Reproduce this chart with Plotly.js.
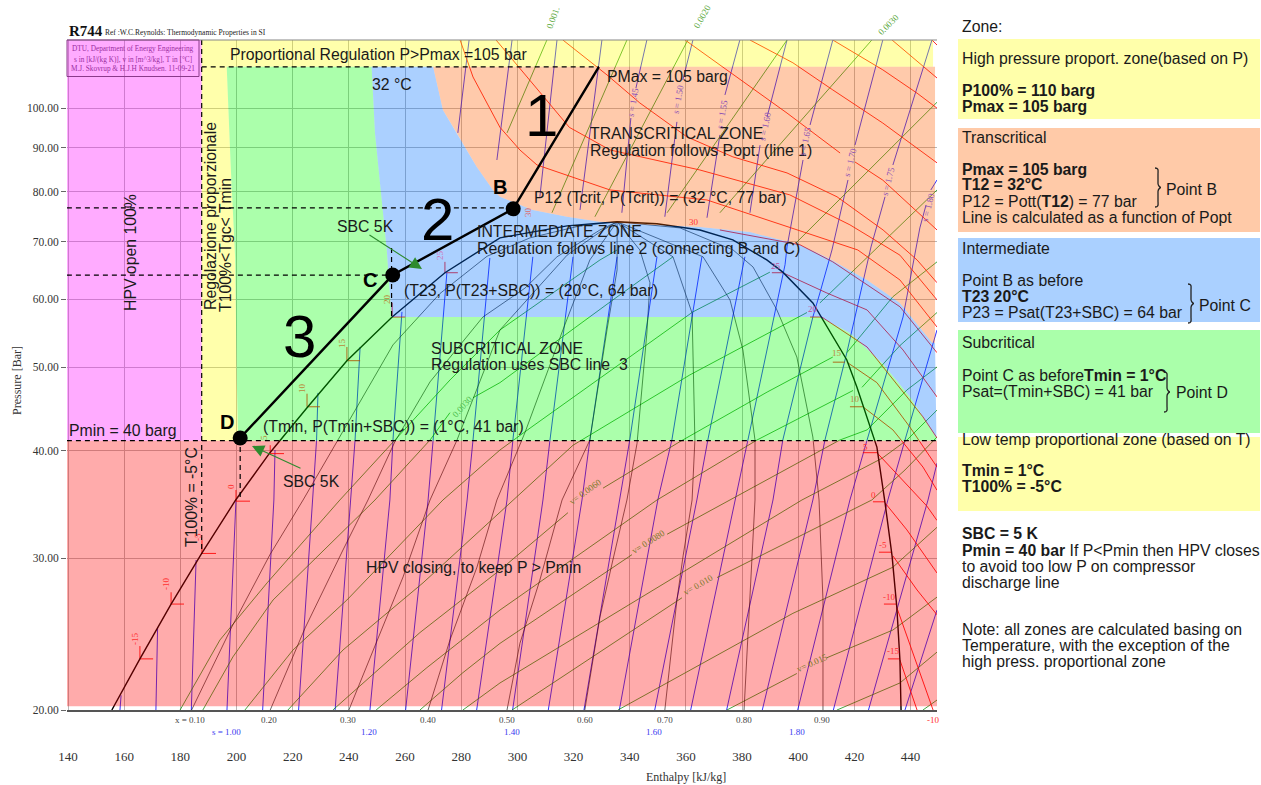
<!DOCTYPE html>
<html>
<head>
<meta charset="utf-8">
<script src="https://cdn.plot.ly/plotly-3.0.1.min.js"></script>
<style>html,body{margin:0;padding:0;background:#fff;overflow:hidden}#chart{width:1261px;height:785px}</style>
</head>
<body>
<div id="chart"></div>
<script>
// ---- axes ----
const enthalpyTicks = [140,160,180,200,220,240,260,280,300,320,340,360,380,400,420,440];
const pressureTicks = [20,30,40,50,60,70,80,90,100];
const pressureTickText = ["20.00","30.00","40.00","50.00","60.00","70.00","80.00","90.00","100.00"];

// ---- constant entropy lines (null = gap) ----
const entropyH = [
 [158.5,158.9],[171.3,171.9],[183.9,185.6],[196.6,199.8],[209.3,213.3,213.7],
 [222.1,226.9,228.5,229],[235.1,240.8,242.2,244],[247.5,254.6,255.7,258.9],
 [260.2,268.2,270,274.9,null,278.8,282.8],
 [273,282.1,284.2,290.2,null,292.7,298.1],
 [285.5,296.3,298.4,305.5,null,308,314.1],
 [298.3,309.1,311.6,319.8,null,322.3,330.1],
 [311,323,325.8,335.5,null,337.2,340.4,null,342.2,346.1],
 [323.7,336.5,340,349.7,null,352.5,356.8,null,358.9,362.5],
 [336.3,350,355,365.7,null,367.5,372.1,null,373.9,379.2],
 [348.9,363.9,367.8,381,null,382.8,386.4,null,388.9,396],
 [361.7,377.5,382.1,395.3,396,401.7,null,404.2,412.3],
 [374.5,391,394.5,405.2,407.7,412,417.7,null,420.2,430.1],
 [387.2,405.2,409.5,417.3,425.9,430.9,null,433.7,447.6],
 [399.8,418.4,424.5,437.3,443.3,445.5,null,447.2,449.4],
 [412.5,431.9,438,444.4,449.4],[425,446.2,449.4],[438,449.4]
];
const entropyP = [
 [20,20.8],[20,24.97],[20,29.87],[20,35.07],[20,35.07,40.09],
 [20,35.07,41.17,46.7],[20,35.07,41.17,52.8],[20,35.07,41.17,58],
 [20,35.07,41.17,64.4,null,93.6,120],
 [20,35.07,41.17,67,null,87.06,120],
 [20,35.07,41.17,67.2,null,78.9,120],
 [20,35.07,41.17,67.2,null,76.17,120],
 [20,35.07,41.17,67.2,null,75.6,97.4,null,105.5,120],
 [20,35.07,41.17,67.2,null,74.8,96.4,null,107.8,120],
 [20,35.07,41.17,67.2,null,74.6,93.1,null,103.6,120],
 [20,35.07,41.17,67.2,null,75.6,90.6,null,97.7,120],
 [20,35.07,41.17,65.8,69,87.06,null,95.6,120],
 [20,35.07,41.17,57.2,61,68.44,82.53,null,90.6,120],
 [20,35.07,41.17,52,69,78.9,null,85.9,120],
 [20,35.07,41.17,57.2,72.6,77.2,null,80.35,82.53],
 [20,35.07,41.17,48.6,55.26],[20,35.07,38.7],[20,26.13]
];

// ---- saturation dome ----
const satH = [155.6,165.6,176.7,187.6,199.7,211.9,225.4,239.3,255.4,274.2,293.8,305.5,317.7,335.5,349.7,365,376.7,388.8,394.5,405.2,417.3,420.9,428,430.9,433.4,435.1,436.2,436.6];
const satP = [20,22.93,26.55,30.4,35.07,39.8,45,50.9,57.2,64.4,70.7,71.8,73,73.8,73.4,72.2,70.3,66.64,64.5,59.4,51,47.4,40.4,34.8,30.2,26.3,22.86,20];

// ---- vapour quality lines x = 0.10 ... 0.90 ----
const qualityH = [
 [184,198.3,211.9,223.7,236.1,255.7,272.4,289.2,304.5,322.3,335.5],
 [212,224.4,237.9,246.8,256.4,268.9,287.7,302.7,314.1,329.4,335.5],
 [240,251.1,259.3,268.9,278.5,293.8,317.7,329.4,335.5],
 [268.2,276,285.6,292.7,302.7,316.2,325.8,335.5],
 [296.3,300.9,308,315.9,325.8,331.9,335.5,335.5],
 [324,329.4,334,339,342.6,346.1,347.2,343.6,335.5],
 [352.5,356.8,359,362.2,363.2,362.2,355.4,335.5],
 [380.7,382.8,384.6,384.6,380.3,375.7,366.1,335.5],
 [408.8,408.8,407.4,405.2,399.5,392.4,383.9,376.8,357.9,335.5]
];
const qualityP = [
 [20,24.97,30.3,35.07,41.17,53.1,60.9,67.3,70.7,73,73.8],
 [20,24.9,30.68,35.07,41,48.1,57.2,61.8,67.2,72.2,73.8],
 [20,24.6,28.55,35.07,41.17,55.26,67.5,71.8,73.8],
 [20,24.12,29.3,35.07,42,55.26,66.64,73.8],
 [20,23.9,28.31,35.07,41.17,55.26,64.88,73.8],
 [20,25.65,29.87,35.07,40.8,54.8,62.7,68.44,73.8],
 [20,26.84,30.2,35.07,41.17,57.8,67.2,73.8],
 [20,26.84,35.07,41.17,52.38,59.88,67.2,73.8],
 [20,26.84,35.07,41.5,51.4,58.3,65.4,68.44,72.6,73.8]
];

// ---- constant specific volume lines ----
const volumeH = [
 [179.9,194.1,210.9,236.8,256.4,276,293.8,329.4,335.5],
 [188,198.7,213,249.3,268.9,276,null,284.2,293.8,334,355.4],
 [203,220.1,239.3,273.5,293.8,304.5,362.5,389.9],
 [218.3,237.9,266.4,293.8,319.8,361.4,403.1],
 [234.3,265.3,293.8,318,null,330.5,357.9,388.9,412.3,null,417.3,433.7,449.4],
 [249.7,267.8,293.8,349.7,385.3,419.5,null,422.7,436.2,449.4],
 [265.3,280.6,293.8,340.8,null,353.3,375.7,414.8,424.5,438.7,449.4],
 [280.6,293.8,401.3,429.8,438.7,449.4],
 [298.1,358.6,null,371.1,426.2,438,449.4],
 [335.8,365,398.1,433.7,449.4],
 [374.6,399.5,null,410.2,433.7,449.4],
 [413.8,436.2,449.4],
 [444.4,449.4],
 [310.5,296.3],[339,312.3],[360.7,327.6],[396,353.3],[426.2,372.1],[449.4,399.5],[449.4,424.5,407.7]
];
const volumeP = [
 [20,24.12,28.1,35.07,41.17,48.34,55.26,66.64,68.44],
 [20,23.05,26.84,35.07,41.17,44.3,null,46.1,48,59.88,67.2],
 [20,23.48,26.84,35.07,40.09,42.5,58,64.5],
 [20,23.48,28.1,33.9,40.6,49,57.9],
 [20,24.6,29.08,33.9,null,36.2,41,46.8,51.4,null,52,60.4,66.3],
 [20,22.4,26.13,35.07,41.17,47,null,47.4,53,57.9],
 [20,22.1,23.9,30.3,null,32,35.07,41.17,42.3,47.07,50.05],
 [20,21.5,35.07,39.2,41.17,44.6],
 [20,27,null,28.5,35.07,38,41.5],
 [20,22.6,25.9,29.3,32.6],
 [20,22.05,null,23,24.77,27.05],
 [20,21.5,23.35],
 [20,20.54],
 [120,93.6],[120,75.6],[120,74.8],[120,75.6],[120,75.6],[101.6,69.9],[80.35,67,59.4]
];

// ---- isotherms and their tick marks at the dome ----
const thermH = [
 [372.1,400.6,412.3,436.2,449.4],[394.5,410.2,424.5,437.3,449.4],[408.4,424.5,444.4,449.4],
 [417.3,428,439.8,449.4],[423,433.7,444.4,449.4],[428,436.2,445.8,449.4],[430.9,438.7,449.4],
 [433.7,442.3,449.4],[435.1,448],[436.2,442.3],
 [279.6,284.2,293.8,300.9,307,333,367.5,397,421.2,436.2,449.4],
 [292.4,304.5,318.5,333,365,397,418.4,436.2,449.4],
 [316.2,331.9,343.6,360.4,376.7,396,413.8,430.2,442.3,449.4],
 [359.7,375.7,396,414.9,null,420.2,430.1,449.4],
 [382.8,398.1,412.3,430.1,449.4],[412.3,430.1,442.3,449.4],[433.4,449.4],[447.6,449.4],
 [170.3,165.6,165.6],[181.3,176.7,176.7],[192.7,187.7,187.7],[204.8,199.8,199.8],[216.9,212,212],
 [229.7,225.1,225.1],[244,239.3,239.3],[260,255.4,255.4],[278.8,274.2,274.2],
 [390.6,394.5],[404.2,408.4],[412.3,416.6],[418.4,423],[423,428],[426.6,430.9],[428.7,433.4],[430.5,435.1],[431.9,436.2]
];
const thermP = [
 [72.2,69.4,66.3,58.8,52],[64.4,61,58.3,52.38,46.2],[57.2,52.8,43.8,41.4],
 [50.7,48,42.6,38.3],[45,42.3,38.3,36],[39.8,37.3,34.5,33.2],[34.8,32.37,28.85],
 [30.2,27.57,25.8],[26.3,20],[22.86,20],
 [120,108.7,95,89.42,85.9,80.35,78.23,72.7,68.44,63.17,55.7],
 [120,107.8,95,89.42,84.76,79.3,73.2,67.5,59.88],
 [120,109.3,101.4,92.6,87.8,84.1,78.9,72.2,66.64,62.7],
 [120,110.2,98.7,88.7,null,86.6,82.5,72.2],
 [120,112.9,105,96.1,86.4],[120,110.8,104.1,100],[120,108.4],[120,118.4],
 [22.93,22.93,23.73],[26.55,26.55,27.4],[30.4,30.4,31.51],[34.96,34.96,36.02],[39.7,39.7,40.6],
 [45,45,46.6],[50.9,50.9,52.8],[57.2,57.2,59.4],[64.4,64.4,66.3],
 [64.4,64.4],[57.2,57.2],[50.7,50.7],[45,45],[39.8,39.8],[34.9,34.9],[30.5,30.5],[26.55,26.55],[22.93,22.93]
];

// ---- regulation zones ----
const pinkH = [139.6,187.6,187.6,139.6];
const pinkP = [41.1,41.1,120,120];
const topYellowH = [187.6,448,448,187.6];
const topYellowP = [111.7,111.7,120,120];
const lowYellowH = [187.6,196.5,197.9,199.5,200.1,200.6,187.6];
const lowYellowP = [111.7,111.7,86,67,48.1,41.1,41.1];
const greenH = [196.5,248.1,249.3,251.7,253.5,255.2,407.7,418.4,430.1,439.8,449.2,449.2,200.6,200.1,199.5,197.9];
const greenP = [111.7,111.7,93.5,78.2,68.44,57.2,57.2,54.8,50.5,46.2,41.4,41.1,41.1,48.1,67,86];
const blueH = [248.1,249.3,251.7,253.5,255.2,407.7,418.4,430.1,439.8,449.2,448.7,447.7,436.2,424.5,410.6,400.6,382.8,365,347.2,329.4,317.7,305.5,293.8,291.3,285.5,278.4,273.5,270];
const blueP = [111.7,93.5,78.2,68.44,57.2,57.2,54.8,50.5,46.2,41.4,53.4,53.4,59.4,63.17,67,69.4,71.8,72.8,73.2,73.8,74.8,76.17,78.9,80.35,85.5,93.6,99.5,111.7];
const orangeH = [270,273.5,278.4,285.5,291.3,293.8,305.5,317.7,329.4,347.2,365,382.8,400.6,410.6,424.5,436.2,447.7,448.7,448.7];
const orangeP = [111.7,99.5,93.6,85.5,80.35,78.9,76.17,74.8,73.8,73.2,72.8,71.8,69.4,67,63.17,59.4,53.4,53.4,111.7];
const redH = [139.6,449.4,449.4,139.6];
const redP = [20.2,20.2,41.1,41.1];

// ---- control line and points ----
const controlH = [201.3,255.6,298.5,329];
const controlP = [41.4,64,76.4,111.7];
const pointH = [201.3,255.6,298.5];
const pointP = [41.4,64,76.4];

// ---- dashed guides ----
const guideH = [[187.6,329],[139.6,298.5],[139.6,255.6],[139.6,449.4],[187.6,187.6],[201.3,201.3],[255.2,255.2]];
const guideP = [[111.7,111.7],[76.6,76.6],[64,64],[41.1,41.1],[120,30.4],[41.4,35],[68.8,57.2]];

// ---- helpers ----
const SANS = '"Liberation Sans", Arial, sans-serif';
const SERIF = '"Liberation Serif", "Times New Roman", serif';
const FS = 15.8;
function joinCurves(list){ const out=[]; list.forEach((c,i)=>{ if(i) out.push(null); c.forEach(v=>out.push(v)); }); return out; }
function line(h,p,color,width,dash){ return {type:'scatter',mode:'lines',x:h,y:p,hoverinfo:'skip',showlegend:false,line:{color:color,width:width,dash:dash||'solid'}}; }
function zone(h,p,color){ return {type:'scatter',mode:'lines',x:h,y:p,fill:'toself',fillcolor:color,line:{width:0},hoverinfo:'skip',showlegend:false}; }
const px = v => (v-67)/870, py = v => (710-v)/670;
function t(x,y,text,o){ o=o||{}; const f=Object.assign({family:SANS,size:FS,color:'#1a1a1a'},o.font||{}); const r=Object.assign({xref:'paper',yref:'paper',x:px(x),y:py(y),text:text,showarrow:false,xanchor:'center',yanchor:'middle'},o); r.font=f; return r; }
function left(x,y,text,size){ return t(x-2,y,text,{xanchor:'left',font:{size:size||FS}}); }
function rot(x,y,text,ang,size,color,fam){ return t(x,y,text,{textangle:ang,font:{size:size,color:color,family:fam||SERIF}}); }
function rect(x0,y0,x1,y1,fill,lineColor){ return {type:'rect',xref:'paper',yref:'paper',x0:px(x0),x1:px(x1),y0:py(y0),y1:py(y1),fillcolor:fill,line:{width:lineColor?1:0,color:lineColor||fill},layer:'below'}; }
function arrow(x,y,ax,ay){ return {xref:'paper',yref:'paper',x:px(x),y:py(y),ax:ax,ay:ay,text:'',showarrow:true,arrowhead:2,arrowsize:2.2,arrowwidth:1.1,arrowcolor:'#2e8b2e'}; }
function brace(x,y0,y1){ const m=(y0+y1)/2, p=(a,b)=>px(a)+','+py(b);
 return {type:'path',xref:'paper',yref:'paper',line:{color:'#222222',width:1.3},
  path:'M'+p(x-2,y0)+' C'+p(x+2,y0)+' '+p(x+1,y0+3)+' '+p(x+1,y0+6)+' L'+p(x+1,m-4)+' C'+p(x+1,m-2)+' '+p(x+3,m)+' '+p(x+4,m)+' C'+p(x+3,m)+' '+p(x+1,m+2)+' '+p(x+1,m+4)+' L'+p(x+1,y1-6)+' C'+p(x+1,y1-3)+' '+p(x+2,y1)+' '+p(x-2,y1)}; }

const traces = [
 line(joinCurves(entropyH),joinCurves(entropyP),'rgba(0,0,255,0.8)',1),
 line(joinCurves(volumeH),joinCurves(volumeP),'rgba(0,140,0,0.75)',1),
 line(joinCurves(qualityH),joinCurves(qualityP),'rgba(0,0,0,0.6)',1),
 line(joinCurves(thermH),joinCurves(thermP),'rgba(255,0,0,0.85)',1),
 line(satH,satP,'#000000',1.4),
 zone(pinkH,pinkP,'rgba(255,0,255,0.33)'),
 zone(topYellowH,topYellowP,'rgba(255,255,0,0.33)'),
 zone(lowYellowH,lowYellowP,'rgba(255,255,0,0.33)'),
 zone(greenH,greenP,'rgba(0,255,0,0.33)'),
 zone(blueH,blueP,'rgba(0,113,255,0.33)'),
 zone(orangeH,orangeP,'rgba(255,95,0,0.33)'),
 zone(redH,redP,'rgba(255,0,0,0.33)'),
 line(joinCurves(guideH),joinCurves(guideP),'#000000',1.2,'5px,4px'),
 line(controlH,controlP,'#000000',2.4),
 {type:'scatter',mode:'markers',x:pointH,y:pointP,hoverinfo:'skip',showlegend:false,marker:{color:'#000000',size:15}}
];

const sideShapes = [
 rect(958,39,1260,119,'#ffffaa'),
 rect(958,128,1260,232,'#ffcaa8'),
 rect(958,238,1260,322,'#aad0ff'),
 rect(958,330,1260,433,'#aaffaa'),
 rect(958,437,1260,511,'#ffffaa')
];
const frameShapes = [
 {type:'line',xref:'paper',yref:'paper',x0:0,x1:1,y0:1,y1:1,line:{color:'#888888',width:1.2}},
 {type:'rect',xref:'paper',yref:'paper',x0:px(67),x1:px(199),y0:py(76.5),y1:py(40),line:{color:'#8a3a8a',width:1},fillcolor:'rgba(0,0,0,0)'},
 brace(1157,168,207),brace(1190,284,323),brace(1166,372,412)
];

const PURPLE='#8a4fb5', OLIVE='#7c7a2a', GRN='#5aa83c', BRN='#b98a3a', RED='#ff3030', MAG='#c0509a';
const annotations = [
 // header
 t(67,31,'<b>R744</b>',{xanchor:'left',font:{family:SERIF,size:15,color:'#111'}}),
 t(103,33,'Ref :W.C.Reynolds: Thermodynamic Properties in SI',{xanchor:'left',font:{family:SERIF,size:7.5,color:'#222'}}),
 t(133,49,'DTU, Department of Energy Engineering',{font:{family:SERIF,size:7.3,color:'#9a2fa0'}}),
 t(133,59,'s in [kJ/(kg K)], v in [m^3/kg], T in [°C]',{font:{family:SERIF,size:7.3,color:'#9a2fa0'}}),
 t(133,69,'M.J. Skovrup &amp; H.J.H Knudsen. 11-09-21',{font:{family:SERIF,size:7.3,color:'#9a2fa0'}}),
 // chart texts
 left(230,54,'Proportional Regulation P&gt;Pmax =105 bar'),
 left(372,85,'32 °C'),
 left(607,77,'PMax = 105 barg'),
 t(541,115,'1',{font:{size:60,color:'#000'}}),
 t(437,219,'2',{font:{size:60,color:'#000'}}),
 t(299,336,'3',{font:{size:60,color:'#000'}}),
 t(500,187,'<b>B</b>',{font:{size:20,color:'#000'}}),
 t(370,280,'<b>C</b>',{font:{size:20,color:'#000'}}),
 t(227,422,'<b>D</b>',{font:{size:20,color:'#000'}}),
 left(590,133,'TRANSCRITICAL ZONE'),
 left(590,150,'Regulation follows Popt. (line 1)'),
 left(534,197,'P12 (Tcrit, P(Tcrit)) = (32 °C, 77 bar)'),
 left(477,232,'INTERMEDIATE ZONE'),
 left(477,248,'Regulation follows line 2 (connecting B and C)'),
 left(337,226,'SBC 5K'),
 left(283,481,'SBC 5K'),
 left(404,290,'(T23, P(T23+SBC)) = (20°C, 64 bar)'),
 left(431,348,'SUBCRITICAL ZONE'),
 left(431,364,'Regulation uses SBC line  3'),
 left(263,426,'(Tmin, P(Tmin+SBC)) = (1°C, 41 bar)'),
 left(69,430,'Pmin = 40 barg'),
 t(130,253,'HPV open 100%',{textangle:-90}),
 t(210,216,'Regolazione proporzionale',{textangle:-90}),
 t(225,245,'T100%&lt;Tgc&lt; Tmin',{textangle:-90}),
 t(191,497,'T100% = -5°C',{textangle:-90}),
 left(366,567,'HPV closing, to keep P &gt; Pmin'),
 arrow(422,269,-54,-35),
 arrow(252,446,50,23),
 // axis titles
 t(686,777,'Enthalpy [kJ/kg]',{font:{family:SERIF,size:12,color:'#333'}}),
 t(17,381,'Pressure [Bar]',{textangle:-90,font:{family:SERIF,size:12,color:'#333'}}),
 // quality and entropy rows
 rot(190,720,'x = 0.10',0,9,'#444'),rot(269,720,'0.20',0,9,'#444'),rot(348,720,'0.30',0,9,'#444'),
 rot(428,720,'0.40',0,9,'#444'),rot(507,720,'0.50',0,9,'#444'),rot(585,720,'0.60',0,9,'#444'),
 rot(665,720,'0.70',0,9,'#444'),rot(744,720,'0.80',0,9,'#444'),rot(822,720,'0.90',0,9,'#444'),
 rot(226,732,'s = 1.00',0,9,'#3a3af0'),rot(369,732,'1.20',0,9,'#3a3af0'),rot(512,732,'1.40',0,9,'#3a3af0'),
 rot(654,732,'1.60',0,9,'#3a3af0'),rot(797,732,'1.80',0,9,'#3a3af0'),rot(933,720,'-10',0,9,'#ff3030'),
 // entropy labels
 rot(633,103,'s = 1.45',-80,9,PURPLE),rot(678,100,'s = 1.50',-80,9,PURPLE),rot(722,115,'s = 1.55',-80,9,PURPLE),
 rot(765,127,'s = 1.60',-78,9,PURPLE),rot(805,142,'s = 1.65',-78,9,PURPLE),rot(850,163,'s = 1.70',-76,9,PURPLE),
 rot(888,182,'s = 1.75',-76,9,PURPLE),rot(928,208,'s = 1.80',-76,9,PURPLE),
 // volume labels
 rot(553,18,'0.001.',-70,9,GRN),rot(702,17,'0.0020',-60,9,GRN),rot(888,25,'0.0030',-45,9,GRN),
 rot(462,407,'0.0030',-48,9,'#4fc04f'),
 rot(585,492,'v= 0.0060',-36,9,OLIVE),rot(648,542,'v= 0.0080',-32,9,OLIVE),
 rot(698,585,'v= 0.010',-30,9,OLIVE),rot(812,663,'v= 0.015',-24,9,OLIVE),
 // temperature labels, liquid side
 rot(135,639,'-15',-90,9,RED),rot(166,584,'-10',-90,9,RED),rot(198,537,'-5',-90,9,RED),rot(231,487,'0',-90,9,RED),
 rot(264,438,'5',-90,9,BRN),rot(302,388,'10',-90,9,BRN),rot(342,343,'15',-90,9,BRN),rot(387,299,'20',-90,9,BRN),
 rot(440,255,'25',-90,9,'#d070b8'),rot(528,212,'30',-90,9,'#e06a6a'),
 // temperature labels, vapour side
 rot(694,222,'30',0,9,RED),rot(776,266,'25',0,9,MAG),rot(813,309,'20',0,9,MAG),rot(837,353,'15',0,9,BRN),
 rot(855,399,'10',0,9,BRN),rot(865,447,'5',0,9,RED),rot(873,495,'0',0,9,RED),rot(883,545,'-5',0,9,RED),
 rot(889,597,'-10',0,9,RED),rot(893,651,'-15',0,9,RED),
 // side panel
 left(962,27,'Zone:'),
 left(962,58,'High pressure proport. zone(based on P)'),
 left(962,90,'<b>P100% = 110 barg</b>'),
 left(962,106,'<b>Pmax = 105 barg</b>'),
 left(962,137,'Transcritical'),
 left(962,169,'<b>Pmax = 105 barg</b>'),
 left(962,185,'<b>T12 = 32°C</b>'),
 left(962,201,'P12 = Pott(<b>T12</b>) = 77 bar'),
 left(962,217,'Line is calculated as a function of Popt'),
 left(1166,189,'Point B'),
 left(962,248,'Intermediate'),
 left(962,280,'Point B as before'),
 left(962,296,'<b>T23 20°C</b>'),
 left(962,312,'P23 = Psat(T23+SBC) = 64 bar'),
 left(1199,305,'Point C'),
 left(962,343,'Subcritical'),
 left(962,375,'Point C as before<b>Tmin = 1°C</b>'),
 left(962,391,'Psat=(Tmin+SBC) = 41 bar'),
 left(1176,393,'Point D'),
 left(962,439,'Low temp proportional zone (based on T)'),
 left(962,470,'<b>Tmin = 1°C</b>'),
 left(962,486,'<b>T100% = -5°C</b>'),
 left(962,533,'<b>SBC = 5 K</b>'),
 left(962,550,'<b>Pmin = 40 bar</b> If P&lt;Pmin then HPV closes'),
 left(962,566,'to avoid too low P on compressor'),
 left(962,582,'discharge line'),
 left(962,629,'Note: all zones are calculated basing on'),
 left(962,645,'Temperature, with the exception of the'),
 left(962,661,'high press. proportional zone')
];

const layout = {
 width:1261,height:785,autosize:false,
 margin:{l:67,r:324,t:40,b:75,pad:0},
 paper_bgcolor:'#ffffff',plot_bgcolor:'#ffffff',
 showlegend:false,hovermode:false,
 xaxis:{type:'linear',range:[139.64,449.4],tickmode:'array',tickvals:enthalpyTicks,ticktext:enthalpyTicks.map(String),
  showgrid:true,gridcolor:'#b8b8b8',gridwidth:1,zeroline:false,showline:true,linecolor:'#555555',linewidth:2,ticks:'',
  ticklabelstandoff:33,tickfont:{family:SERIF,size:13,color:'#333333'}},
 yaxis:{type:'log',range:[Math.log10(20),Math.log10(120)],tickmode:'array',tickvals:pressureTicks,ticktext:pressureTickText,
  showgrid:true,gridcolor:'#b8b8b8',gridwidth:1,zeroline:false,showline:false,ticks:'outside',ticklen:5,tickcolor:'#666666',
  tickfont:{family:SERIF,size:11.5,color:'#333333'}},
 shapes:sideShapes.concat(frameShapes),
 annotations:annotations
};
Plotly.newPlot('chart',traces,layout,{staticPlot:true,displayModeBar:false});
</script>
</body>
</html>
